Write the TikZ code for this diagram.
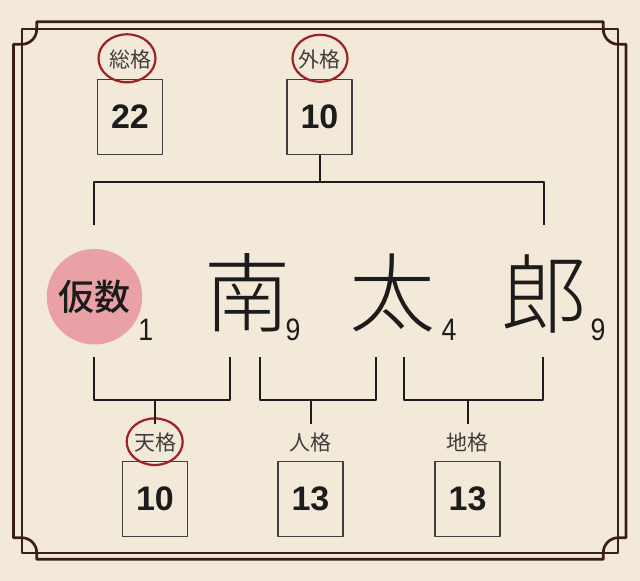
\documentclass[tikz,border=0pt]{standalone}
\usepackage{fontspec}
\setmainfont{Noto Sans CJK JP}
\newfontfamily\numfont{Liberation Sans}[FakeStretch=0.86]
\newfontfamily\boldnum{Liberation Sans}
\IfFontExistsTF{Noto Sans CJK JP Light}
  {\newfontfamily\namefont{Noto Sans CJK JP Light}}
  {\newfontfamily\namefont{Noto Sans CJK JP}}
\IfFontExistsTF{Noto Sans CJK JP Medium}
  {\newfontfamily\kasufont{Noto Sans CJK JP Medium}}
  {\newfontfamily\kasufont{Noto Sans CJK JP}}
\usepackage{tikz}
\usetikzlibrary{calc}
\definecolor{paper}{HTML}{F3E9D8}
\definecolor{framebrown}{HTML}{3B1E14}
\definecolor{ink}{HTML}{1C1C1C}
\definecolor{markred}{HTML}{9E2128}
\definecolor{kasupink}{HTML}{EAA1A6}

\begin{document}
\begin{tikzpicture}[x=1pt,y=-1pt, line join=round,
    kakubox/.style={draw=ink!85, line width=1.2pt, minimum width=65pt, minimum height=75pt, inner sep=0pt,
      font=\boldnum\bfseries\fontsize{34}{34}\selectfont, text=ink},
    kakulabel/.style={inner sep=0pt, minimum height=38pt, font=\fontsize{21}{21}\selectfont, text=ink!85},
    namechar/.style={inner sep=0pt, font=\namefont\fontsize{86}{86}\selectfont, text=ink},
    strokenum/.style={inner sep=0pt, anchor=base, font=\numfont\fontsize{31}{31}\selectfont, text=ink},
    bracket/.style={draw=ink, line width=2pt},
    redmark/.style={draw=markred, line width=2.2pt}]
    % paper
    \fill[paper] (0,0) rectangle (640,581);
    \useasboundingbox (0,0) rectangle (640,581);

    %--- double frame with cut corners
    \draw[framebrown, line width=1.7pt] (21.7,29.3) rectangle (618.3,552.7);
    \draw[framebrown, line width=2.7pt] (36.7,21.7) -- (603.3,21.7) -- (603.3,29.3)
        arc[start angle=180, end angle=90, radius=15] -- (626,44.3) -- (626,537.7) -- (618.3,537.7)
        arc[start angle=270, end angle=180, radius=15] -- (603.3,559.3) -- (36.7,559.3) -- (36.7,552.7)
        arc[start angle=0, end angle=-90, radius=15] -- (13.5,537.7) -- (13.5,44.3) -- (21.7,44.3)
        arc[start angle=90, end angle=0, radius=15] -- cycle;

    %--- top row: 総格 and 外格
    \node[kakulabel] (soulabel) at (130,60) {総格};
    \node[kakubox]   (soukaku)  at (130,117) {22};
    \node[kakulabel] (gailabel) at (319.5,60) {外格};
    \node[kakubox]   (gaikaku)  at (319.5,117) {10};
    \draw[redmark] (127,58.3) ellipse[x radius=28.5, y radius=24];
    \draw[redmark] (320,58.3) ellipse[x radius=27.5, y radius=23.5];

    % bar from 外格 down to the first and last letters
    \coordinate (barleft)  at (94,182);
    \coordinate (barright) at (543.5,182);
    \draw[bracket] (gaikaku.south) -- (gaikaku.south |- barleft);
    \draw[bracket] ($(barleft)+(0,43)$) -- (barleft) -- (barright) -- ($(barright)+(0,43)$);

    %--- the name with its stroke counts
    \node[circle, fill=kasupink, minimum size=95.5pt, inner sep=0pt,
          font=\kasufont\fontsize{36}{36}\selectfont, text=ink] (kasu) at (94.5,296.7) {仮数};
    \node[strokenum] (kasunum) at (145.7,340) {1};
    \node[namechar]  (nan)     at (247,293) {南};
    \node[strokenum] (nannum)  at (293,340) {9};
    \node[namechar]  (ta)      at (392.7,292.5) {太};
    \node[strokenum] (tanum)   at (449,340) {4};
    \node[namechar]  (rou)     at (544,294) {郎};
    \node[strokenum] (rounum)  at (598,340) {9};

    %--- bottom row: 天格, 人格, 地格
    \node[kakulabel] (tenlabel) at (155,443) {天格};
    \node[kakubox]   (tenkaku)  at (155,499) {10};
    \node[kakulabel] (jinlabel) at (310.5,443) {人格};
    \node[kakubox]   (jinkaku)  at (310.5,499) {13};
    \node[kakulabel] (chilabel) at (467.5,443) {地格};
    \node[kakubox]   (chikaku)  at (467.5,499) {13};
    \draw[redmark] (154.7,441.7) ellipse[x radius=28, y radius=23.3];

    % brackets under pairs of letters
    \foreach \l/\r/\s/\lab in {94.3/230/155/tenlabel, 260/376/310.5/jinlabel, 404.3/543.3/467.5/chilabel} {
      \draw[bracket] (\l,357) -- (\l,400) -- (\r,400) -- (\r,357);
      \draw[bracket] (\s,400) -- (\lab.north);
    }
\end{tikzpicture}
\end{document}
